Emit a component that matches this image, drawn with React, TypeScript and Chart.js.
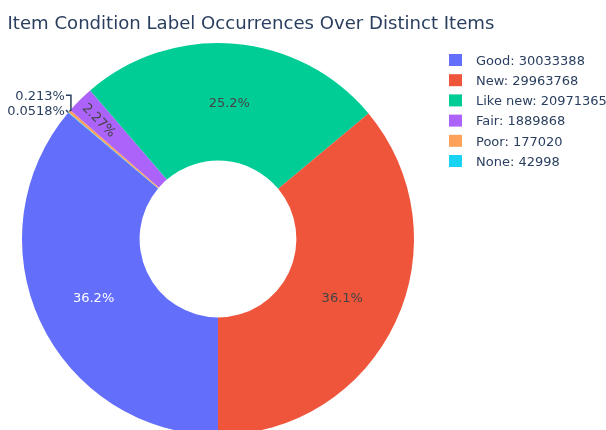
import React, { useEffect, useRef } from 'react';
import { Chart, registerables } from 'chart.js';

Chart.register(...registerables);

const TITLE = 'Item Condition Label Occurrences Over Distinct Items';
const CATEGORIES = ['Good', 'New', 'Like new', 'Fair', 'Poor', 'None'];
const COUNTS = [30033388, 29963768, 20971365, 1889868, 177020, 42998];
const COLORS = ['#636efa', '#EF553B', '#00cc96', '#ab63fa', '#FFA15A', '#19d3f3'];
const INSIDE_TEXT_COLORS = ['#ffffff', '#444444', '#444444', '#444444', '#2a3f5f', '#2a3f5f'];
const LABEL_MODES = ['inside', 'inside', 'inside', 'radial', 'outside', 'outside'];
// slices are laid out clockwise starting at 6 o'clock in this order
const DRAW_ORDER = [0, 5, 4, 3, 2, 1];

const FONT = '"DejaVu Sans", sans-serif';
const TEXT_COLOR = '#2a3f5f';

const overlayPlugin = {
  id: 'overlay',
  afterDatasetsDraw(chart: any) {
    const ctx: CanvasRenderingContext2D = chart.ctx;
    const meta = chart.getDatasetMeta(0);
    const total = COUNTS.reduce((a, b) => a + b, 0);
    ctx.save();
    ctx.font = `13px ${FONT}`;
    ctx.textBaseline = 'alphabetic';
    meta.data.forEach((arc: any, j: number) => {
      const i = DRAW_ORDER[j];
      const p = arc.getProps(['x', 'y', 'startAngle', 'endAngle', 'innerRadius', 'outerRadius'], true);
      const mid = (p.startAngle + p.endAngle) / 2;
      const pct = ((COUNTS[i] / total) * 100).toPrecision(3) + '%';
      const mode = LABEL_MODES[i];
      if (mode === 'inside') {
        const r = (p.innerRadius + p.outerRadius) / 2;
        const cx = p.x + Math.cos(mid) * r;
        const cy = p.y + Math.sin(mid) * r;
        ctx.fillStyle = INSIDE_TEXT_COLORS[i];
        ctx.textAlign = 'center';
        ctx.fillText(pct, cx, cy + 4.7);
      } else if (mode === 'radial') {
        const r = p.outerRadius - 28;
        const cx = p.x + Math.cos(mid) * r;
        const cy = p.y + Math.sin(mid) * r;
        ctx.save();
        ctx.translate(cx, cy);
        ctx.rotate(mid - Math.PI);
        ctx.fillStyle = INSIDE_TEXT_COLORS[i];
        ctx.textAlign = 'center';
        ctx.fillText(pct, 0, 4.7);
        ctx.restore();
      } else {
        const pt = {
          x: p.x + Math.cos(mid) * p.outerRadius,
          y: p.y + Math.sin(mid) * p.outerRadius,
        };
        ctx.fillStyle = TEXT_COLOR;
        ctx.textAlign = 'right';
        const first = i === 4;
        const tx = pt.x - (first ? 4.5 : 3.4);
        const ty = pt.y - (first ? 16 : 2.5);
        ctx.fillText(pct, tx, ty + 4.7);
        ctx.strokeStyle = TEXT_COLOR;
        ctx.lineWidth = 1.5;
        ctx.beginPath();
        if (first) {
          ctx.moveTo(tx + 1, ty);
          ctx.lineTo(pt.x + 1.5, ty);
          ctx.lineTo(pt.x + 1.5, pt.y - 1);
          ctx.lineTo(pt.x, pt.y);
        } else {
          ctx.moveTo(tx + 1, ty);
          ctx.lineTo(pt.x, pt.y);
        }
        ctx.stroke();
      }
    });

    // title
    ctx.font = `18.1px ${FONT}`;
    ctx.fillStyle = TEXT_COLOR;
    ctx.textAlign = 'left';
    ctx.fillText(TITLE, 7.5, 28.5);

    // legend
    ctx.font = `13px ${FONT}`;
    CATEGORIES.forEach((name, i) => {
      const cy = 60 + i * 20.2;
      ctx.fillStyle = COLORS[i];
      ctx.fillRect(449, cy - 6, 13, 12);
      ctx.fillStyle = TEXT_COLOR;
      ctx.fillText(`${name}: ${COUNTS[i]}`, 476, cy + 4.8);
    });
    ctx.restore();
  },
};

export default function App() {
  const ref = useRef<HTMLCanvasElement | null>(null);
  useEffect(() => {
    document.body.style.margin = '0';
    const canvas = ref.current!;
    const chart = new Chart(canvas, {
      type: 'doughnut',
      data: {
        labels: DRAW_ORDER.map((i) => CATEGORIES[i]),
        datasets: [
          {
            data: DRAW_ORDER.map((i) => COUNTS[i]),
            backgroundColor: DRAW_ORDER.map((i) => COLORS[i]),
            borderWidth: 0,
            hoverOffset: 0,
            offset: 0,
            spacing: 0,
          } as any,
        ],
      },
      options: {
        responsive: false,
        animation: false,
        cutout: '40%',
        rotation: 180,
        layout: { padding: { left: 22, right: 192, top: 43, bottom: 5 } },
        plugins: {
          legend: { display: false },
          title: { display: false },
          tooltip: { enabled: false },
        },
        events: [],
      } as any,
      plugins: [overlayPlugin],
    });
    return () => chart.destroy();
  }, []);
  return (
    <div
      style={{
        position: 'fixed',
        left: 0,
        top: 0,
        width: 606,
        height: 430,
        overflow: 'hidden',
        background: '#fff',
      }}
    >
      <canvas ref={ref} width={606} height={440} style={{ display: 'block' }} />
    </div>
  );
}
